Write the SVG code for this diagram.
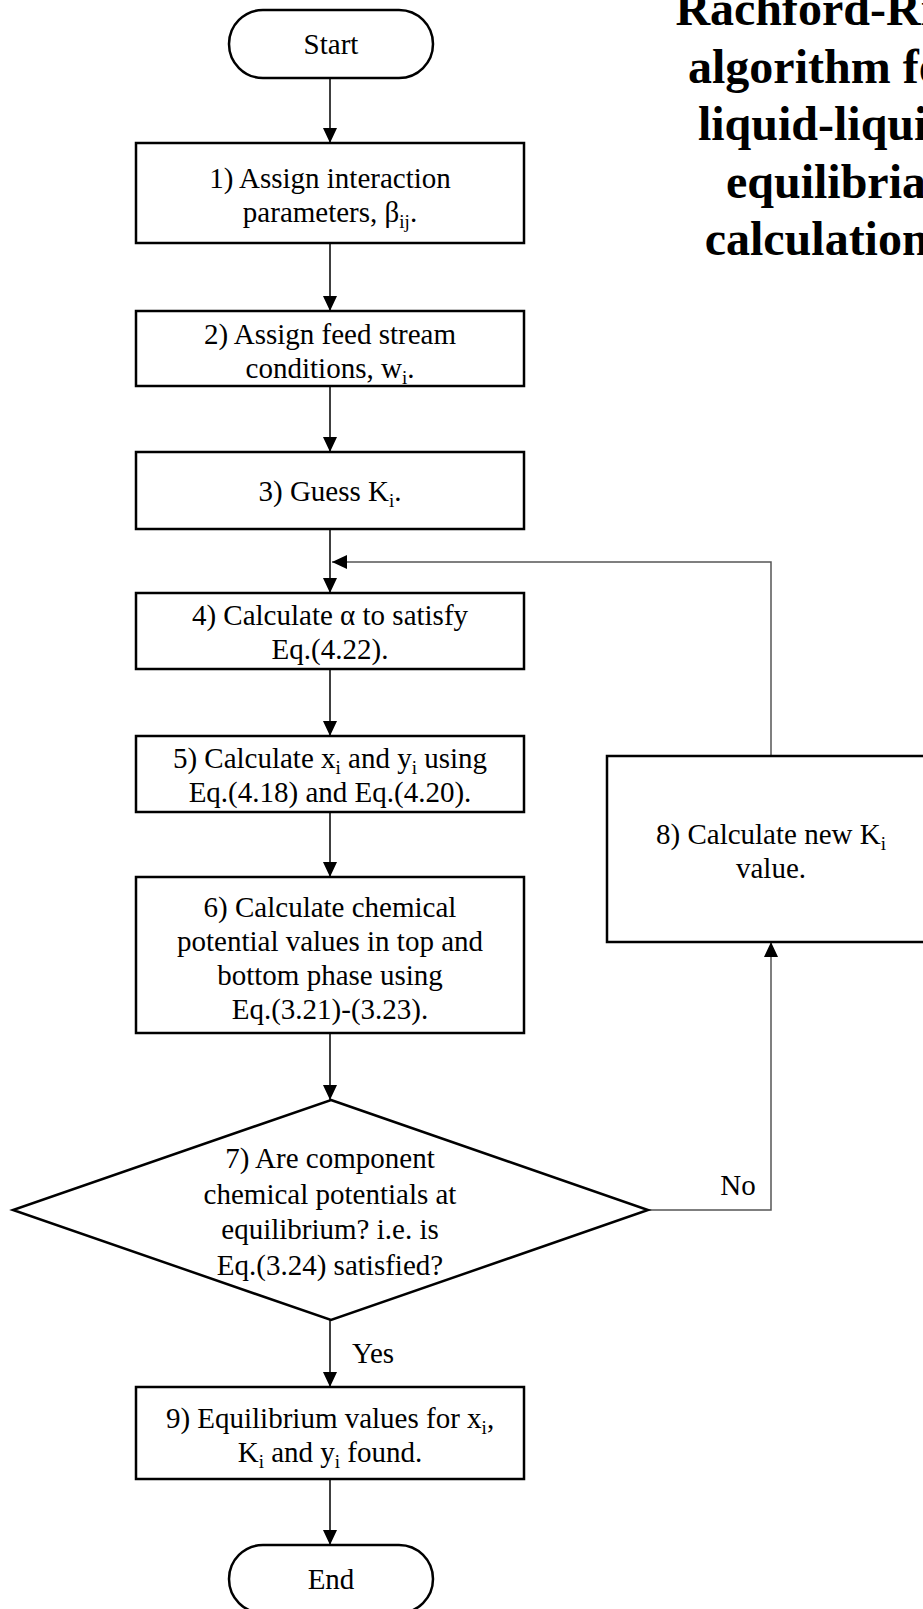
<svg xmlns="http://www.w3.org/2000/svg" width="923" height="1609" viewBox="0 0 923 1609">
<style>
.box{fill:#fff;stroke:#000;stroke-width:2.5}
.t{font-family:"Liberation Serif","Times New Roman",serif;font-size:29px;fill:#000;text-anchor:middle}
.s{font-size:19px}
.title{font-family:"Liberation Serif","Times New Roman",serif;font-size:48px;font-weight:bold;fill:#000;text-anchor:middle}
.c{fill:none;stroke:#000;stroke-width:1.5}
.fb{fill:none;stroke:#555;stroke-width:1.5}
</style>
<defs>
<marker id="ah" markerUnits="userSpaceOnUse" viewBox="0 0 15 14" refX="15" refY="7" markerWidth="15" markerHeight="14" orient="auto">
<path d="M0,0 L15,7 L0,14 z" fill="#000"/>
</marker>
</defs>
<g id="title">
<text class="title" x="826" y="25">Rachford-Rice</text>
<text class="title" x="826" y="82.5">algorithm for</text>
<text class="title" x="826" y="140">liquid-liquid</text>
<text class="title" x="826" y="197.5">equilibria</text>
<text class="title" x="826" y="255">calculations</text>
</g>
<g id="connectors">
<line class="c" x1="330" y1="78" x2="330" y2="143" marker-end="url(#ah)"/>
<line class="c" x1="330" y1="243" x2="330" y2="311" marker-end="url(#ah)"/>
<line class="c" x1="330" y1="386" x2="330" y2="452" marker-end="url(#ah)"/>
<line class="c" x1="330" y1="529" x2="330" y2="593" marker-end="url(#ah)"/>
<polyline class="fb" points="771,756 771,562 332,562" marker-end="url(#ah)"/>
<line class="c" x1="330" y1="669" x2="330" y2="736" marker-end="url(#ah)"/>
<line class="c" x1="330" y1="812" x2="330" y2="877" marker-end="url(#ah)"/>
<line class="c" x1="330" y1="1033" x2="330" y2="1100" marker-end="url(#ah)"/>
<polyline class="fb" points="648,1210 771,1210 771,942" marker-end="url(#ah)"/>
<line class="c" x1="330" y1="1320" x2="330" y2="1387" marker-end="url(#ah)"/>
<line class="c" x1="330" y1="1479" x2="330" y2="1545" marker-end="url(#ah)"/>
<text class="t" x="738" y="1195">No</text>
<text class="t" x="373" y="1363">Yes</text>
</g>
<g id="start">
<rect class="box" x="229" y="10" width="204" height="68" rx="34" ry="34"/>
<text class="t" x="331" y="54">Start</text>
</g>
<g id="step1">
<rect class="box" x="136" y="143" width="388" height="100"/>
<text class="t" x="330" y="188">1) Assign interaction</text>
<text class="t" x="330" y="222">parameters, β<tspan class="s" dy="6">ij</tspan><tspan dy="-6">.</tspan></text>
</g>
<g id="step2">
<rect class="box" x="136" y="311" width="388" height="75"/>
<text class="t" x="330" y="343.5">2) Assign feed stream</text>
<text class="t" x="330" y="377.5">conditions, w<tspan class="s" dy="6">i</tspan><tspan dy="-6">.</tspan></text>
</g>
<g id="step3">
<rect class="box" x="136" y="452" width="388" height="77"/>
<text class="t" x="330" y="500.5">3) Guess K<tspan class="s" dy="6">i</tspan><tspan dy="-6">.</tspan></text>
</g>
<g id="step4">
<rect class="box" x="136" y="593" width="388" height="76"/>
<text class="t" x="330" y="625">4) Calculate α to satisfy</text>
<text class="t" x="330" y="659">Eq.(4.22).</text>
</g>
<g id="step5">
<rect class="box" x="136" y="736" width="388" height="76"/>
<text class="t" x="330" y="768">5) Calculate x<tspan class="s" dy="6">i</tspan><tspan dy="-6"> and y</tspan><tspan class="s" dy="6">i</tspan><tspan dy="-6"> using</tspan></text>
<text class="t" x="330" y="802">Eq.(4.18) and Eq.(4.20).</text>
</g>
<g id="step6">
<rect class="box" x="136" y="877" width="388" height="156"/>
<text class="t" x="330" y="917">6) Calculate chemical</text>
<text class="t" x="330" y="951">potential values in top and</text>
<text class="t" x="330" y="985">bottom phase using</text>
<text class="t" x="330" y="1019">Eq.(3.21)-(3.23).</text>
</g>
<g id="step7">
<polygon class="box" points="331,1100 648,1210 331,1320 13,1210"/>
<text class="t" x="330" y="1168">7) Are component</text>
<text class="t" x="330" y="1203.5">chemical potentials at</text>
<text class="t" x="330" y="1239">equilibrium? i.e. is</text>
<text class="t" x="330" y="1274.5">Eq.(3.24) satisfied?</text>
</g>
<g id="step8">
<rect class="box" x="607" y="756" width="328" height="186"/>
<text class="t" x="771" y="844">8) Calculate new K<tspan class="s" dy="6">i</tspan></text>
<text class="t" x="771" y="878">value.</text>
</g>
<g id="step9">
<rect class="box" x="136" y="1387" width="388" height="92"/>
<text class="t" x="330" y="1428">9) Equilibrium values for x<tspan class="s" dy="6">i</tspan><tspan dy="-6">,</tspan></text>
<text class="t" x="330" y="1462">K<tspan class="s" dy="6">i</tspan><tspan dy="-6"> and y</tspan><tspan class="s" dy="6">i</tspan><tspan dy="-6"> found.</tspan></text>
</g>
<g id="end">
<rect class="box" x="229" y="1545" width="204" height="68" rx="34" ry="34"/>
<text class="t" x="331" y="1589">End</text>
</g>
</svg>
